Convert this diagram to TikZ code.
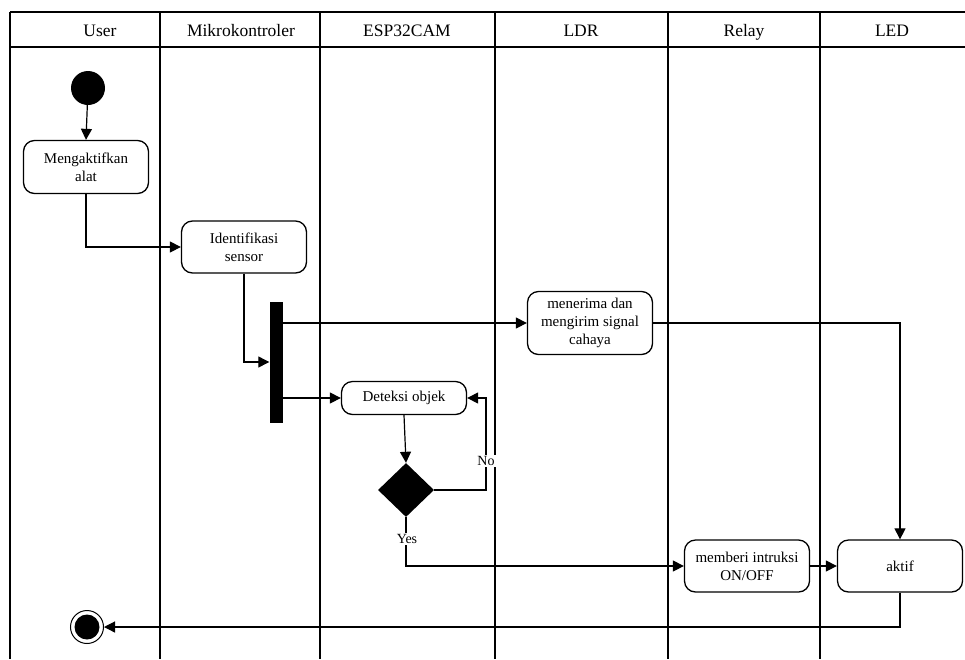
\documentclass[tikz,border=0pt]{standalone}
\usepackage{fontspec}
\setmainfont{Liberation Serif}
\usetikzlibrary{arrows.meta,shapes.geometric}
\begin{document}
\begin{tikzpicture}[x=1pt,y=-1pt,
  lane/.style={line width=1.8pt},
  act/.style={draw,rounded corners=11pt,line width=1.3pt,align=center,inner sep=0pt,
    minimum width=125pt,minimum height=52pt,font=\fontsize{15}{18}\selectfont},
  conn/.style={line width=1.2pt,-{Triangle[length=11pt,width=11pt]}},
  hdr/.style={anchor=base,inner sep=0pt,font=\fontsize{17.5}{20}\selectfont},
  lbl/.style={fill=white,inner sep=1pt,font=\fontsize{14}{16}\selectfont}
]
\useasboundingbox (0,0) rectangle (965,659);
% header
\draw[lane] (10,12) -- (965,12);
\draw[lane] (10,47) -- (965,47);
\foreach \x in {10,160,320,495,668,820}{\draw[lane] (\x,12) -- (\x,659);}
\node[hdr] (hUser) at (100,36) {User};
\node[hdr] (hMik) at (241,36) {Mikrokontroler};
\node[hdr] (hEsp) at (407,36) {ESP32CAM};
\node[hdr] (hLdr) at (581,36) {LDR};
\node[hdr] (hRel) at (744,36) {Relay};
\node[hdr] (hLed) at (892,36) {LED};
% nodes
\node[circle,fill=black,minimum size=34pt,inner sep=0pt] (start) at (88,88) {};
\node[act,minimum height=53pt] (meng) at (86,167) {Mengaktifkan\\alat};
\node[act] (ident) at (244,247) {Identifikasi\\sensor};
\node[fill=black,minimum width=13pt,minimum height=121pt,inner sep=0pt] (bar) at (276,362) {};
\node[act,minimum height=63pt] (men) at (590,323) {menerima dan\\mengirim signal\\cahaya};
\node[act,minimum height=33pt] (det) at (404,398) {Deteksi objek};
\node[diamond,fill=black,minimum width=56pt,minimum height=54pt,inner sep=0pt] (dia) at (406,490) {};
\node[act] (mem) at (747,566) {memberi intruksi\\ON/OFF};
\node[act] (akt) at (900,566) {aktif};
\node[circle,draw,line width=1pt,minimum size=33pt,inner sep=0pt] (endo) at (87,627) {};
\node[circle,fill=black,minimum size=25pt,inner sep=0pt] (endi) at (87,627) {};
\coordinate (noc) at (486,490);
\coordinate (yesc) at (406,566);
% connectors
\draw[conn] (start) -- (meng.north);
\draw[conn] (meng.south) |- (ident.west);
\draw[conn] (ident.south) |- (bar.west);
\draw[conn] (bar.east |- men.west) -- (men.west);
\draw[conn] (bar.east |- det.west) -- (det.west);
\draw[conn] (det.south) -- (dia.north);
\draw[conn] (dia.east) -- (noc) |- (det.east);
\node[lbl] (no) at (486,461) {No};
\draw[conn] (dia.south) -- (yesc) -- (mem.west);
\node[lbl] (yes) at (407,539) {Yes};
\draw[conn] (mem.east) -- (akt.west);
\draw[conn] (men.east) -| (akt.north);
\draw[conn] (akt.south) |- (endo.east);
\end{tikzpicture}
\end{document}
